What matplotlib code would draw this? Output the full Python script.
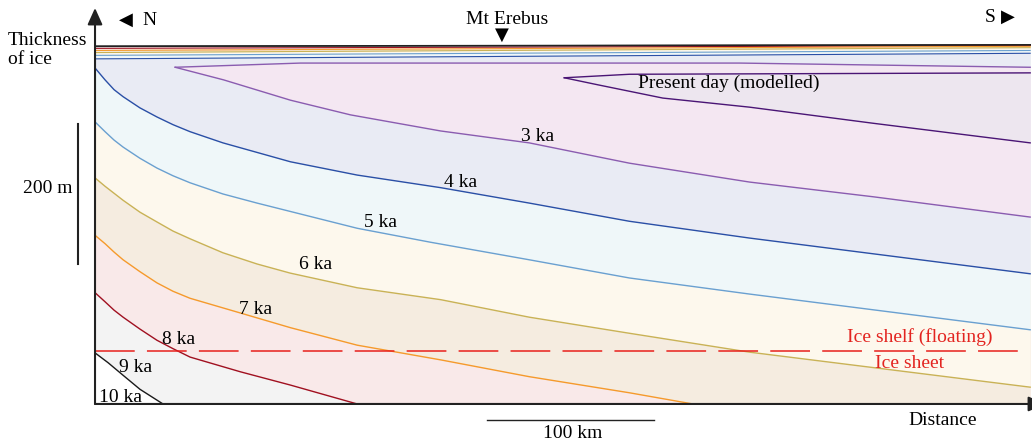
import numpy as np
import matplotlib
matplotlib.use("Agg")
import matplotlib.pyplot as plt

plt.rcParams["font.family"] = ["Liberation Serif", "DejaVu Sans"]

# Isochrone bases: distance along flow line (km) vs ice thickness (m)
x_k10 = [0, 7.8, 16.8, 26.9, 40.7]
h_k10 = [73, 59, 41, 21, 0]

x_k9 = [0, 6, 11.4, 16.8, 26.9, 37.1, 46.7, 56.9, 87, 117, 157]
h_k9 = [159, 146, 134, 124, 107, 91, 79, 67, 46, 27, 0]

x_k8 = [0, 6, 11.4, 16.8, 26.9, 37.1, 46.7, 56.9, 87, 117, 157, 207, 260,
        320, 358]
h_k8 = [241, 229, 217, 206, 189, 173, 161, 151, 130, 109, 84, 63, 39, 16, 0]

x_k7 = [0, 6, 11.4, 16.8, 26.9, 37.1, 46.7, 56.9, 76.6, 97, 116.8, 157, 207,
        260, 320, 392, 560]
h_k7 = [323, 311, 301, 291, 274, 260, 247, 236, 216, 200, 187, 166, 149,
        124, 101, 74, 24]

x_k6 = [0, 6, 11.4, 16.8, 26.9, 37.1, 46.7, 56.9, 76.6, 97, 157, 201, 260,
        320, 392, 560]
h_k6 = [403, 389, 377, 367, 351, 337, 326, 316, 300, 287, 251, 231, 206,
        180, 157, 106]

x_k5 = [0, 6, 11.4, 16.8, 26.9, 37.1, 46.7, 56.9, 76.6, 117, 157, 207, 260,
        320, 392, 560]
h_k5 = [480, 463, 449, 439, 423, 410, 399, 389, 373, 346, 327, 309, 287,
        261, 237, 186]

# surface traces of the same layers (left end, right end)
top_x = [0, 560]
top_k10 = [511, 513]
top_k9 = [508, 512]
top_k8 = [505, 511]
top_k7 = [502, 509]
top_k6 = [498, 505]
top_k5 = [493, 501]

# 3 ka and present-day lenses (closed at their up-flow tip)
x_k3_base = [48, 77, 117, 153, 207, 260, 320, 392, 466, 560]
h_k3_base = [481, 463, 434, 413, 390, 373, 344, 317, 296, 267]
x_k3_top = [48, 123, 386, 560]
h_k3_top = [481, 487, 487, 481]

x_now_base = [281, 301, 340, 392, 466, 560]
h_now_base = [466, 456, 437, 424, 401, 373]
x_now_top = [281, 320, 560]
h_now_top = [466, 471, 473]

grounding_h = 76

age_labels = ["10 ka", "9 ka", "8 ka", "7 ka", "6 ka", "5 ka", "4 ka", "3 ka"]

fig = plt.figure(figsize=(10.32, 4.41), dpi=100)
ax = fig.add_axes([0, 0, 1, 1])
ax.set_xlim(-56.9, 561.1)
ax.set_ylim(-52.9, 577.1)
ax.axis("off")

sheets = [
    (x_k10, h_k10, top_k10, "#f3f3f3", "#1a1a1a"),
    (x_k9, h_k9, top_k9, "#f9e9e9", "#a01020"),
    (x_k8, h_k8, top_k8, "#f5ece0", "#f59a2c"),
    (x_k7, h_k7, top_k7, "#fdf8ed", "#c9b256"),
    (x_k6, h_k6, top_k6, "#eff7f9", "#6aa0d0"),
    (x_k5, h_k5, top_k5, "#e9ebf4", "#2a4fa6"),
]

xg = np.linspace(0, 560, 1121)
for xs, hs, top, fill, col in sheets:
    lower = np.interp(xg, xs, hs, right=0)
    upper = np.interp(xg, top_x, top)
    ax.fill_between(xg, lower, upper, color=fill, lw=0)

lenses = [
    (x_k3_base, h_k3_base, x_k3_top, h_k3_top, "#f4e7f2", "#8a5cb0"),
    (x_now_base, h_now_base, x_now_top, h_now_top, "#ede6ef", "#4a1575"),
]
for xb, hb, xt, ht, fill, col in lenses:
    xl = np.linspace(xb[0], 560, 600)
    ax.fill_between(xl, np.interp(xl, xb, hb), np.interp(xl, xt, ht),
                    color=fill, lw=0)

for xs, hs, top, fill, col in sheets:
    ax.plot(xs, hs, color=col, lw=1.0)
    ax.plot(top_x, top, color=col, lw=0.8)
for xb, hb, xt, ht, fill, col in lenses:
    ax.plot(xb, hb, color=col, lw=1.0)
    ax.plot(xt, ht, color=col, lw=1.0)
ax.plot(top_x, top_k10, color="#222222", lw=1.2)

# grounding line
ax.plot([0, 560], [grounding_h, grounding_h], color="#e8201c", lw=1.1,
        dashes=(26, 8))
ax.text(494, 88.6, "Ice shelf (floating)", color="#e32420", fontsize=14,
        ha="center", va="baseline")
ax.text(488, 51.4, "Ice sheet", color="#e32420", fontsize=14,
        ha="center", va="baseline")

# age labels
label_x = [15, 24, 50, 96, 132, 171, 219, 265]
label_h = [3, 46, 86, 129, 193, 253, 310, 376]
for txt, lx, lh in zip(age_labels, label_x, label_h):
    ax.text(lx, lh, txt, fontsize=14, ha="center", va="baseline")
ax.text(325, 451.4, "Present day (modelled)", fontsize=14, ha="left",
        va="baseline")

# axes with arrowheads
arrow = dict(arrowstyle="-|>,head_length=1.0,head_width=0.45", lw=1.5,
             color="#222222", shrinkA=0, shrinkB=0)
ax.annotate("", xy=(0, 565.7), xytext=(0, 0), arrowprops=arrow,
            annotation_clip=False)
ax.annotate("", xy=(568.9, 0), xytext=(0, 0), arrowprops=arrow,
            annotation_clip=False)

ax.text(-52.1, 512.9, "Thickness", fontsize=14, ha="left", va="baseline")
ax.text(-52.1, 485.7, "of ice", fontsize=14, ha="left", va="baseline")
ax.text(507.8, -30, "Distance", fontsize=14, ha="center", va="baseline")

# direction markers
ax.text(18.6, 548.6, "\u25C0", fontsize=13, ha="center", va="center",
        family="DejaVu Sans")
ax.text(28.1, 541.4, "N", fontsize=14, ha="left", va="baseline")
ax.text(532.9, 545.7, "S", fontsize=14, ha="left", va="baseline")
ax.text(546.7, 552.9, "\u25B6", fontsize=13, ha="center", va="center",
        family="DejaVu Sans")
ax.text(246.7, 542.9, "Mt Erebus", fontsize=14, ha="center", va="baseline")
ax.text(243.7, 527.1, "\u25BC", fontsize=13, ha="center", va="center",
        family="DejaVu Sans")

# scale bars
ax.plot([235, 335], [-22.9, -22.9], color="#222222", lw=1.0)
ax.text(286.2, -48.6, "100 km", fontsize=14, ha="center", va="baseline")
ax.plot([-10.2, -10.2], [200, 400], color="#222222", lw=1.5)
ax.text(-13.2, 301.4, "200 m", fontsize=14, ha="right", va="baseline")

fig.savefig("out.png", dpi=100)
